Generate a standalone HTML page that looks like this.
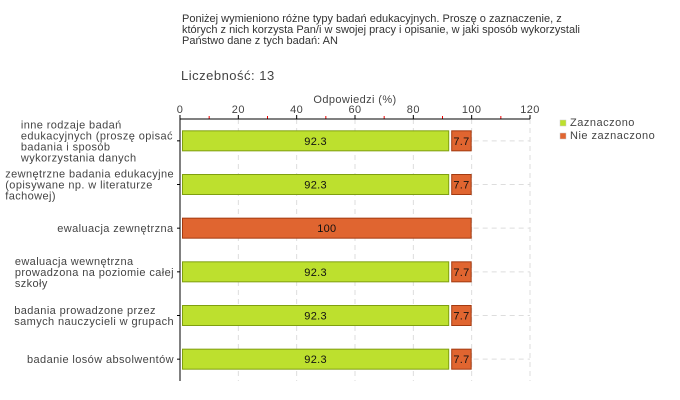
<!DOCTYPE html>
<html><head><meta charset="utf-8"><style>
body{margin:0;background:#fff;}
svg{display:block;font-family:"Liberation Sans",sans-serif;}
</style></head><body>
<svg id="chart" width="680" height="400" viewBox="0 0 680 400">
<g font-size="11" fill="#333">
<text x="182" y="22">Poniżej wymieniono różne typy badań edukacyjnych. Proszę o zaznaczenie, z</text>
<text x="182" y="33">których z nich korzysta Pan/i w swojej pracy i opisanie, w jaki sposób wykorzystali</text>
<text x="182" y="44">Państwo dane z tych badań:  AN</text>
</g>
<text x="181" y="80" font-size="13" fill="#444" letter-spacing="0.5">Liczebność: 13</text>
<text x="355" y="103" font-size="11" fill="#444" text-anchor="middle" letter-spacing="0.4">Odpowiedzi (%)</text>
<g id="grid"></g><g id="axes"></g><g id="bars"></g><g id="labels"></g>
<g font-size="11" fill="#444" letter-spacing="0.5">
<g><rect x="560" y="120" width="6" height="6" fill="#bde02e" stroke="#ccc" stroke-width="0.5"/><text x="570" y="126">Zaznaczono</text></g>
<g><rect x="560" y="133" width="6" height="6" fill="#e06530" stroke="#ccc" stroke-width="0.5"/><text x="570" y="139">Nie zaznaczono</text></g>
</g>
</svg>
<script>
const categories=[
["inne rodzaje badań","edukacyjnych (proszę opisać","badania i sposób","wykorzystania danych"],
["zewnętrzne badania edukacyjne","(opisywane np. w literaturze","fachowej)"],
["ewaluacja zewnętrzna"],
["ewaluacja wewnętrzna","prowadzona na poziomie całej","szkoły"],
["badania prowadzone przez","samych nauczycieli w grupach"],
["badanie losów absolwentów"]];
const zaznaczono=[92.3,92.3,0,92.3,92.3,92.3];
const nieZaznaczono=[7.7,7.7,100,7.7,7.7,7.7];
const ticks=[0,20,40,60,80,100,120];
const NS="http://www.w3.org/2000/svg";
const x0=180,x1=530,yTop=119,yBot=381,xmax=120;
const xs=v=>x0+(x1-x0)*v/xmax;
const band=(yBot-yTop)/categories.length;
const yc=i=>yTop+band*(i+0.5);
function mk(tag,attrs,parent){const e=document.createElementNS(NS,tag);for(const k in attrs)e.setAttribute(k,attrs[k]);parent.appendChild(e);return e;}
const grid=document.getElementById('grid'),axes=document.getElementById('axes'),bars=document.getElementById('bars'),labels=document.getElementById('labels');
ticks.forEach(t=>{
 if(t>0){const g=mk('line',{x1:xs(t),x2:xs(t),y1:yTop,y2:yBot,stroke:'#ddd','stroke-dasharray':'5,4'},grid);
 
 }
 const tk=mk('line',{x1:xs(t),x2:xs(t),y1:yTop-4,y2:yTop,stroke:'#000'},axes);
 
 
 const tl=mk('text',{x:xs(t),y:yTop-6,'text-anchor':'middle','font-size':'11',fill:'#444','letter-spacing':'0.4'},axes);
 tl.textContent=t;
 
 
 if(t<120){const m=mk('line',{x1:xs(t+10),x2:xs(t+10),y1:yTop-3,y2:yTop,stroke:'#e00'},axes);
 
 }
});
const ax=mk('line',{x1:x0,x2:x1,y1:yTop,y2:yTop,stroke:'#000'},axes);


const ay=mk('line',{x1:x0,x2:x0,y1:yTop,y2:yBot,stroke:'#000'},axes);


categories.forEach((lines,i)=>{
 const c=yc(i);
 const tot=zaznaczono[i]+nieZaznaczono[i];
 const hg=mk('line',{x1:xs(tot)+2,x2:x1,y1:c,y2:c,stroke:'#ddd','stroke-dasharray':'5,4'},grid);
 
 
 const yt=mk('line',{x1:x0-3,x2:x0,y1:c,y2:c,stroke:'#000'},axes);
 
 
 let start=0;
 [[zaznaczono[i],'#bde02e','#7f9f10','zaznaczono'],[nieZaznaczono[i],'#e06530','#a33a10','nie-zaznaczono']].forEach(([v,f,s,n])=>{
  if(v>0){
   const r=mk('rect',{x:xs(start)+2.5,y:c-10,width:xs(start+v)-xs(start)-3,height:20,fill:f,stroke:s},bars);
   
   
   const t=mk('text',{x:(xs(start)+xs(start+v))/2+1,y:c+4,'text-anchor':'middle','font-size':'11',fill:'#111','letter-spacing':'0.3'},bars);
   t.textContent=String(v);
   
   
  }
  start+=v;
 });
 const lh=11;
 const maxw=Math.max(...lines.map(l=>l.length));
 const g=mk('g',{},labels);
 
 
 lines.forEach((l,k)=>{
  const t=mk('text',{x:x0-6,y:c-(lines.length-1)*lh/2+k*lh+4,'font-size':'11',fill:'#444','letter-spacing':'0.4'},g);
  t.textContent=l;
 });
 // left-align block, right-aligned overall
 const bb=g.getBBox();
 Array.from(g.children).forEach(t=>t.setAttribute('x',x0-6-bb.width));
});
</script>
</body></html>
